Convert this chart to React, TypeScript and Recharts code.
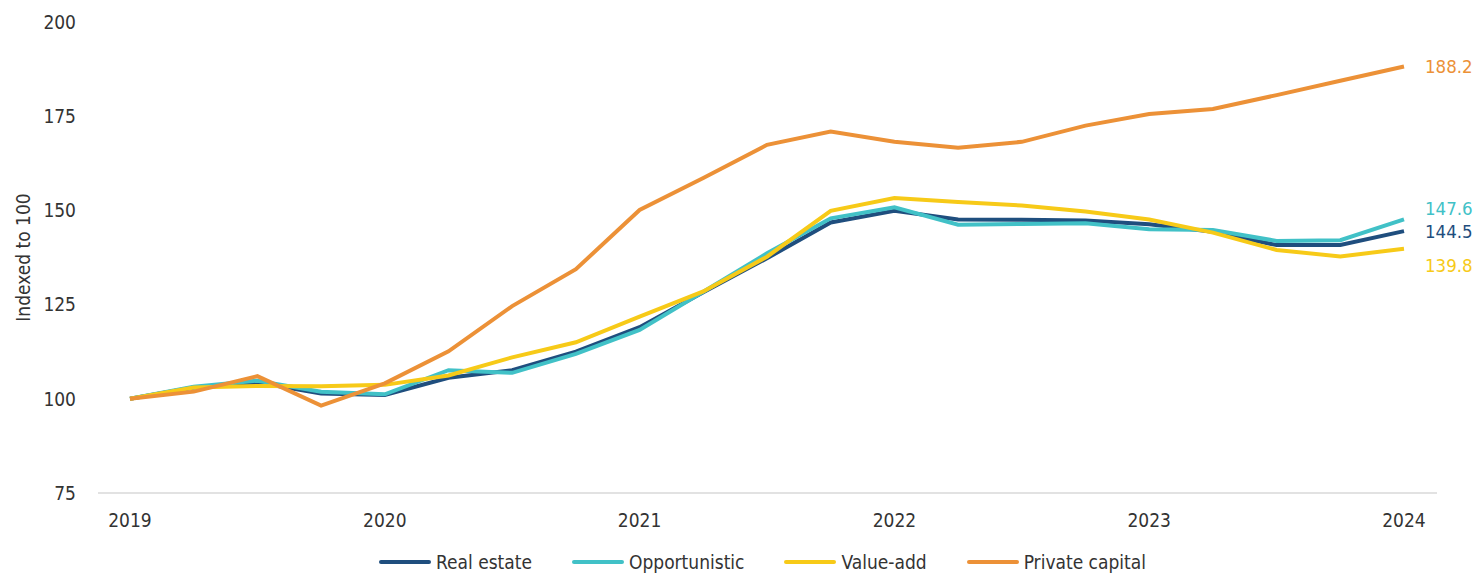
import React from "react";
import {
  LineChart,
  Line,
  XAxis,
  YAxis,
  Legend,
  Label,
  LabelList,
} from "recharts";

const quarters = [
  "2019 Q1", "2019 Q2", "2019 Q3", "2019 Q4",
  "2020 Q1", "2020 Q2", "2020 Q3", "2020 Q4",
  "2021 Q1", "2021 Q2", "2021 Q3", "2021 Q4",
  "2022 Q1", "2022 Q2", "2022 Q3", "2022 Q4",
  "2023 Q1", "2023 Q2", "2023 Q3", "2023 Q4",
  "2024 Q1",
];

const realEstate = [
  100, 103.0, 104.3, 101.4, 101.0, 105.6, 107.6, 112.5, 119.0, 128.3, 137.3,
  146.8, 149.9, 147.6, 147.5, 147.3, 146.3, 144.3, 140.8, 140.8, 144.5,
];
const opportunistic = [
  100, 103.2, 104.8, 101.9, 101.2, 107.6, 106.9, 111.9, 118.3, 128.4, 138.6,
  147.9, 150.8, 146.2, 146.4, 146.6, 145.0, 144.8, 141.9, 142.1, 147.6,
];
const valueAdd = [
  100, 103.0, 103.4, 103.3, 103.7, 106.2, 111.0, 115.0, 121.8, 128.5, 137.7,
  149.9, 153.3, 152.2, 151.3, 149.7, 147.6, 144.1, 139.5, 137.8, 139.8,
];
const privateCapital = [
  100, 101.9, 106.0, 98.2, 104.1, 112.6, 124.6, 134.4, 150.1, 158.6, 167.4,
  170.9, 168.2, 166.6, 168.2, 172.5, 175.6, 176.9, 180.6, 184.4, 188.2,
];

const yTicks = [75, 100, 125, 150, 175, 200];

const data = quarters.map((q, i) => ({
  quarter: q,
  realEstate: realEstate[i],
  opportunistic: opportunistic[i],
  valueAdd: valueAdd[i],
  privateCapital: privateCapital[i],
}));

const series = [
  { key: "realEstate", name: "Real estate", color: "#1F4E7E", endDy: 0 },
  { key: "opportunistic", name: "Opportunistic", color: "#41C1C7", endDy: -11 },
  { key: "valueAdd", name: "Value-add", color: "#F7CA18", endDy: 17 },
  { key: "privateCapital", name: "Private capital", color: "#EC9137", endDy: 0 },
];

const FONT = "'Liberation Sans Narrow', 'DejaVu Sans Condensed', 'Roboto Condensed', sans-serif";
const TEXT = "#333333";
const FS = 19;
const last = quarters.length - 1;

function endLabel(color: string, dy: number) {
  return (props: any) => {
    const { x, y, value, index } = props;
    if (index !== last) return null;
    return (
      <text x={x + 21} y={y + dy} fill={color} fontSize={18.5} dominantBaseline="central">
        {Number(value).toFixed(1)}
      </text>
    );
  };
}

function LegendRow() {
  return (
    <div
      style={{
        boxSizing: "border-box",
        display: "flex",
        justifyContent: "center",
        alignItems: "center",
        gap: 40,
        paddingLeft: 50,
        paddingTop: 18,
        height: 40,
        fontFamily: FONT,
        fontSize: FS,
        color: TEXT,
      }}
    >
      {series.map((s) => (
        <div key={s.key} style={{ display: "flex", alignItems: "center", gap: 5 }}>
          <span style={{ width: 52, height: 4, borderRadius: 2, background: s.color, display: "inline-block" }} />
          <span>{s.name}</span>
        </div>
      ))}
    </div>
  );
}

export default function App() {
  return (
    <div style={{ position: "absolute", left: 0, top: 0, width: 1475, height: 576, background: "#fff", fontFamily: FONT }}>
      <LineChart width={1475} height={576} data={data} margin={{ top: 22, right: 38, left: 0, bottom: 3 }}>
        <XAxis
          dataKey="quarter"
          interval={3}
          tickFormatter={(v: string) => v.slice(0, 4)}
          padding={{ left: 32, right: 33 }}
          stroke="#d9d9d9"
          strokeWidth={1.5}
          tickLine={false}
          tickSize={0}
          tickMargin={21}
          height={40}
          tick={{ fill: TEXT, fontSize: FS }}
        />
        <YAxis
          domain={[75, 200]}
          ticks={yTicks}
          axisLine={false}
          tickLine={false}
          tickSize={0}
          tickMargin={22}
          width={98}
          tick={{ fill: TEXT, fontSize: FS }}
        >
          <Label
            value="Indexed to 100"
            angle={-90}
            position="insideLeft"
            offset={23}
            style={{ textAnchor: "middle", fill: TEXT, fontSize: FS }}
          />
        </YAxis>
        <Legend verticalAlign="bottom" height={40} wrapperStyle={{ left: 0, width: 1475 }} content={() => <LegendRow />} />
        {series.map((s) => (
          <Line
            key={s.key}
            dataKey={s.key}
            name={s.name}
            stroke={s.color}
            strokeWidth={4}
            dot={false}
            activeDot={false}
            isAnimationActive={false}
          >
            <LabelList dataKey={s.key} content={endLabel(s.color, s.endDy)} />
          </Line>
        ))}
      </LineChart>
    </div>
  );
}
